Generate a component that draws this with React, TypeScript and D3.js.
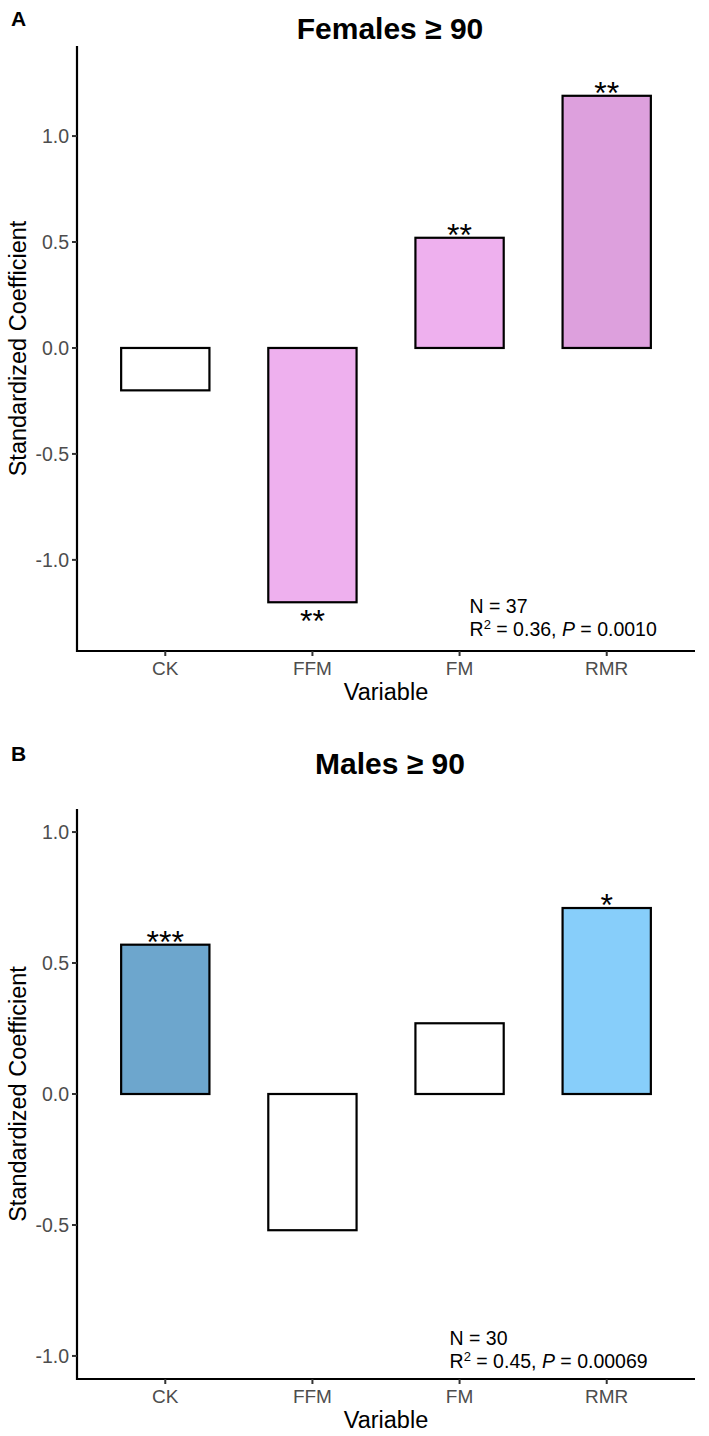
import React from "react";
import * as d3 from "d3";

const categories = ["CK", "FFM", "FM", "RMR"];

const femaleValues = [-0.2, -1.2, 0.52, 1.19];
const femaleColors = ["#FFFFFF", "#EEB0EE", "#EEB0EE", "#DDA0DD"];
const femaleStars = ["", "**", "**", "**"];

const maleValues = [0.57, -0.52, 0.27, 0.71];
const maleColors = ["#6DA6CD", "#FFFFFF", "#FFFFFF", "#87CEFA"];
const maleStars = ["***", "", "", "*"];

const yTicks = [-1.0, -0.5, 0.0, 0.5, 1.0];

const FONT = "'Liberation Sans', Arial, Helvetica, sans-serif";
const TITLE_FONT = "'Liberation Sans', Arial, sans-serif";

type PanelProps = {
  letter: string;
  title: string;
  values: number[];
  colors: string[];
  stars: string[];
  n: string;
  r2: string;
  p: string;
  domain: [number, number];
  top: number;
  bottom: number;
  titleY: number;
  annotY: [number, number];
  annotDx: number;
};

function Panel(props: PanelProps) {
  const { letter, title, values, colors, stars, n, r2, p, domain, top, bottom, titleY, annotY, annotDx } = props;
  const left = 77;
  const right = 695;
  const x = d3.scalePoint<string>().domain(categories).range([left, right]).padding(0.6);
  const y = d3.scaleLinear().domain(domain).range([bottom, top]);
  const bw = x.step() * 0.6;
  const ticks = yTicks.filter((t) => t >= domain[0] && t <= domain[1]);
  const cx = (left + right) / 2;
  return (
    <g>
      <text x={11} y={titleY - 13} fontFamily={FONT} fontWeight="bold" fontSize={21} fill="#000">{letter}</text>
      <text x={cx + 4} y={titleY} textAnchor="middle" fontFamily={TITLE_FONT} fontWeight="bold" fontSize={30} fill="#000">{title}</text>
      {values.map((v, i) => {
        const c = categories[i];
        const x0 = (x(c) as number) - bw / 2;
        const y0 = y(Math.max(0, v));
        const h = Math.abs(y(v) - y(0));
        return (
          <rect key={c} x={x0} y={y0} width={bw} height={h} fill={colors[i]} stroke="#000" strokeWidth={2.2} />
        );
      })}
      {stars.map((s, i) => {
        if (!s) return null;
        const v = values[i];
        const yy = v >= 0 ? y(v) + 8 : y(v) + 30;
        return (
          <text key={"s" + i} x={x(categories[i]) as number} y={yy} textAnchor="middle" fontFamily={FONT} fontSize={32} fill="#000">{s}</text>
        );
      })}
      <line x1={left} x2={left} y1={top} y2={bottom + 1} stroke="#000" strokeWidth={2.2} />
      <line x1={left - 1} x2={right} y1={bottom} y2={bottom} stroke="#000" strokeWidth={2.2} />
      {ticks.map((t) => (
        <g key={t}>
          <line x1={left - 5} x2={left} y1={y(t)} y2={y(t)} stroke="#333" strokeWidth={2} />
          <text x={left - 8} y={y(t)} dy="0.36em" textAnchor="end" fontFamily={FONT} fontSize={19.5} fill="#4D4D4D">{t.toFixed(1)}</text>
        </g>
      ))}
      {categories.map((c) => (
        <g key={c}>
          <line x1={x(c) as number} x2={x(c) as number} y1={bottom} y2={bottom + 5} stroke="#333" strokeWidth={2} />
          <text x={x(c) as number} y={bottom + 24} textAnchor="middle" fontFamily={FONT} fontSize={19} fill="#4D4D4D">{c}</text>
        </g>
      ))}
      <text x={cx} y={bottom + 49} textAnchor="middle" fontFamily={FONT} fontSize={23.5} fill="#000">Variable</text>
      <text transform={`translate(26,${(top + bottom) / 2}) rotate(-90)`} textAnchor="middle" fontFamily={FONT} fontSize={23.5} fill="#000">Standardized Coefficient</text>
      <text x={(x("FM") as number) + annotDx} y={y(annotY[0])} fontFamily={FONT} fontSize={19.5} fill="#000">{`N = ${n}`}</text>
      <text x={(x("FM") as number) + annotDx} y={y(annotY[1])} fontFamily={FONT} fontSize={19.5} fill="#000">
        R<tspan fontSize={13} dy={-7}>2</tspan><tspan dy={7}>{` = ${r2}, `}</tspan><tspan fontStyle="italic">P</tspan>{` = ${p}`}
      </text>
    </g>
  );
}

export default function App() {
  return (
    <svg width={709} height={1436} style={{ position: "absolute", left: 0, top: 0, background: "#fff" }}>
      <rect x={0} y={0} width={709} height={1436} fill="#fff" />
      <Panel
        letter="A"
        title="Females ≥ 90"
        values={femaleValues}
        colors={femaleColors}
        stars={femaleStars}
        n="37"
        r2="0.36"
        p="0.0010"
        domain={[-1.43, 1.425]}
        top={46}
        bottom={651}
        titleY={39}
        annotY={[-1.25, -1.36]}
        annotDx={10}
      />
      <Panel
        letter="B"
        title="Males ≥ 90"
        values={maleValues}
        colors={maleColors}
        stars={maleStars}
        n="30"
        r2="0.45"
        p="0.00069"
        domain={[-1.088, 1.088]}
        top={809}
        bottom={1379}
        titleY={774}
        annotY={[-0.96, -1.045]}
        annotDx={-10}
      />
    </svg>
  );
}
